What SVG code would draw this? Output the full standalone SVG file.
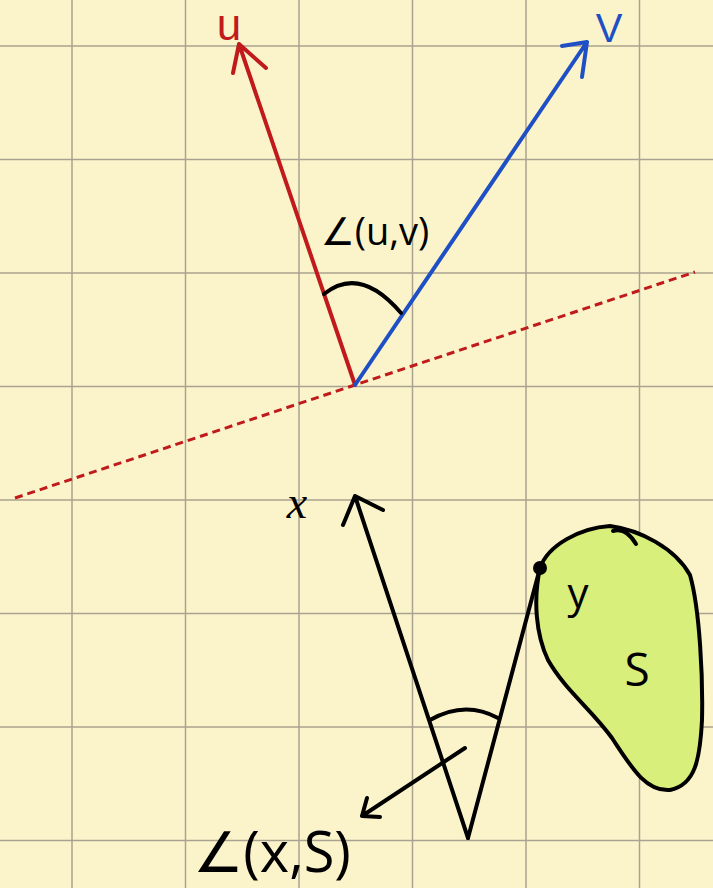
<svg xmlns="http://www.w3.org/2000/svg" width="713" height="888" viewBox="0 0 713 888">
<style>
.grid{stroke:#aaa290;stroke-width:1.5}
.red{stroke:#c01a1c;stroke-width:4;fill:none;stroke-linecap:round;stroke-linejoin:round}
.blue{stroke:#1f4fc4;stroke-width:4;fill:none;stroke-linecap:round;stroke-linejoin:round}
.blk{stroke:#000;stroke-width:4;fill:none;stroke-linecap:round;stroke-linejoin:round}
.t{font-family:"Open Sans","DejaVu Sans",sans-serif}
.ls{font-family:"Liberation Sans",Arial,sans-serif}
</style>
<rect width="713" height="888" fill="#fbf4cb"/>
<g id="grid">
<path class="grid" d="M72 0V888M185.5 0V888M299 0V888M412.5 0V888M526 0V888M639.5 0V888M0 46H713M0 159.5H713M0 273H713M0 386.5H713M0 500H713M0 613.5H713M0 727H713M0 840.5H713"/>
</g>
<g id="set-S">
<path d="M540 568 C548 545 580 528 610 526 C640 530 675 548 690 575 C700 610 703 680 702 720 C700 760 695 785 670 790 C645 792 630 765 612 738 C592 710 565 690 548 660 C536 635 533 600 540 568 Z" fill="#d8ef7c" stroke="#000" stroke-width="4"/>
<path class="blk" d="M613 531 Q626 527 636 544" stroke-width="3"/>
<text class="t" x="637" y="686" font-size="46" text-anchor="middle">S</text>
</g>
<g id="line-dashed">
<path d="M15 498 L695 272" stroke="#c01a1c" stroke-width="3" stroke-dasharray="8 5" fill="none"/>
</g>
<g id="connectors">
<g id="vec-u">
<path class="red" d="M355 385 L239 44 M233 73 L239 44 L266 68"/>
</g>
<g id="vec-v">
<path class="blue" d="M355 385 L587 42 M562 46 L587 42 L582 77"/>
</g>
<g id="vec-x">
<path class="blk" d="M468 838 L355 496 M343 525 L355 496 L383 510"/>
</g>
<g id="seg-y">
<path class="blk" d="M468 838 L540 568"/>
</g>
<path class="blk" d="M324 294 Q360 265 401 313"/>
<path class="blk" d="M430 720 Q465 700 498 718"/>
<path class="blk" d="M465 748 L362 816 M362 816 L380 817 M362 816 L367 798" stroke-width="3.5"/>
</g>
<circle id="point-y" cx="540" cy="568" r="7" fill="#000"/>
<g id="labels">
<text class="ls" x="229" y="40" font-size="44" fill="#c01a1c" text-anchor="middle">u</text>
<text class="ls" x="609" y="42" font-size="40" fill="#1f4fc4" text-anchor="middle">V</text>
<text class="t" x="375" y="245" font-size="38" text-anchor="middle">∠(u,v)</text>
<text x="297" y="518" font-size="46" font-family="Liberation Serif,serif" font-style="italic" text-anchor="middle">x</text>
<text class="t" x="578" y="608" font-size="42" text-anchor="middle">y</text>
<text class="t" x="272" y="872" font-size="56" text-anchor="middle">∠(x,S)</text>
</g>
</svg>
